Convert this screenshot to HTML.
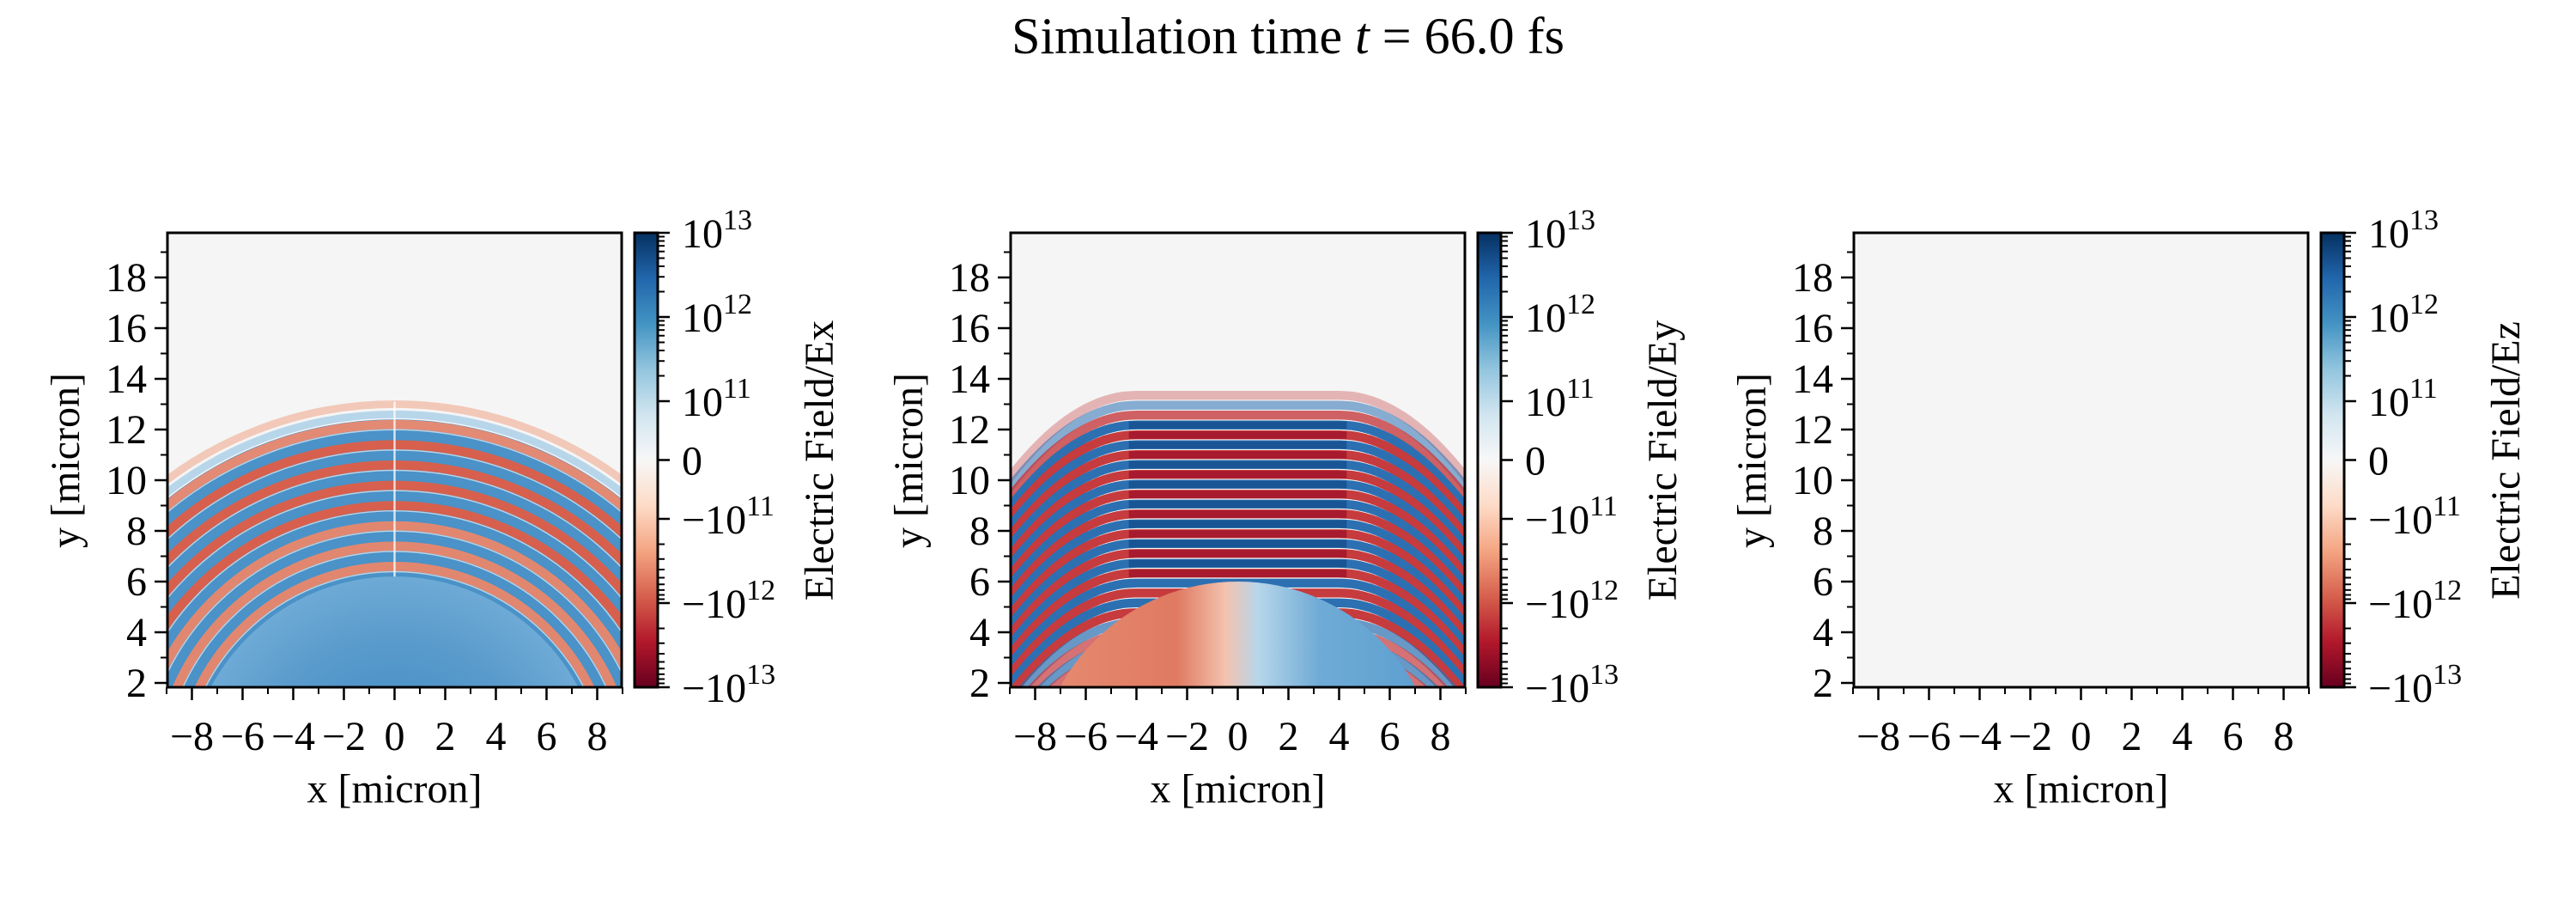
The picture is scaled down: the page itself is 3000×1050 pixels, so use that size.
<!DOCTYPE html>
<html><head><meta charset="utf-8"><style>
html,body{margin:0;padding:0;background:#fff;width:3000px;height:1050px;overflow:hidden;position:relative;}
svg{display:block;position:absolute;left:0;top:0;font-family:"Liberation Serif","DejaVu Serif",serif;}
</style></head><body>
<svg id="s" xmlns="http://www.w3.org/2000/svg" width="3000" height="1050" viewBox="0 0 3000 1050">
<defs>
<linearGradient id="cb" x1="0" y1="0" x2="0" y2="1">
<stop offset="0" stop-color="#053061"/><stop offset="0.1" stop-color="#2166ac"/><stop offset="0.2" stop-color="#4393c3"/><stop offset="0.3" stop-color="#92c5de"/><stop offset="0.4" stop-color="#d1e5f0"/><stop offset="0.5" stop-color="#f7f7f7"/><stop offset="0.6" stop-color="#fddbc7"/><stop offset="0.7" stop-color="#f4a582"/><stop offset="0.8" stop-color="#d6604d"/><stop offset="0.9" stop-color="#b2182b"/><stop offset="1" stop-color="#67001f"/>
</linearGradient>
<radialGradient id="dome1" cx="0.5" cy="0.5" r="0.5">
<stop offset="0" stop-color="#3a86c0"/><stop offset="0.7" stop-color="#5a9bcc"/><stop offset="1" stop-color="#6eaad6"/>
</radialGradient>
<linearGradient id="dome2" x1="0" y1="0" x2="1" y2="0">
<stop offset="0" stop-color="#e58c72"/><stop offset="0.35" stop-color="#e07a62"/><stop offset="0.47" stop-color="#f3c2ae"/><stop offset="0.55" stop-color="#b7d6ea"/><stop offset="0.7" stop-color="#6fabd6"/><stop offset="1" stop-color="#5a9dcf"/>
</linearGradient>
<clipPath id="c0"><rect x="195" y="271" width="529" height="529"/></clipPath>
<clipPath id="c1"><rect x="1177" y="271" width="529" height="529"/></clipPath>
<clipPath id="c2"><rect x="2159" y="271" width="529" height="529"/></clipPath>
</defs>
<text x="1500" y="62" font-size="60" text-anchor="middle">Simulation time <tspan font-style="italic">t</tspan> = 66.0 fs</text>
<g id="content"></g>
</svg>
<script>
(function(){
var out=[];
var Ls=[195,1177,2159];
var names=["Ex","Ey","Ez"];
function f(v){return Math.round(v*100)/100;}
for(var p=0;p<3;p++){
 var L=Ls[p], cx=L+264.5;
 out.push('<rect x="'+L+'" y="271" width="529" height="529" fill="#f5f5f5"/>');
 var g='<g clip-path="url(#c'+p+')"><g transform="translate('+cx+',854) scale(29.5,-29.5)">';
 if(p==0){
  g+='<circle cx="0" cy="-2" r="15.0" fill="none" stroke="#f2c8b8" stroke-width="0.3"/>';
  g+='<circle cx="0" cy="-2" r="14.6" fill="none" stroke="#b8d6ea" stroke-width="0.3"/>';
  g+='<circle cx="0" cy="-2" r="14.4" fill="#4a92c7"/>';
  var k=0;
  for(var r=14.2;r>8.0;r-=0.8){
   var col=k==0?"#e38a74":(r<10.5?"#e2876f":"#d6604d");
   g+='<circle cx="0" cy="-2" r="'+f(r)+'" fill="none" stroke="'+col+'" stroke-width="0.36"/>';
   g+='<circle cx="0" cy="-2" r="'+f(r-0.21)+'" fill="none" stroke="#ffffff" stroke-width="0.05" opacity="0.6"/>';
   k++;
  }
  g+='<circle cx="0" cy="-2" r="8.2" fill="url(#dome1)"/>';
  g+='<line x1="0" y1="6.2" x2="0" y2="13.1" stroke="#ffffff" stroke-width="0.08" opacity="0.8"/>';
 } else if(p==1){
  for(var k2=0;k2<44;k2++){
   var y0=13.35-0.39*k2, d='';
   for(var x=-9.5;x<=9.51;x+=0.25){
    var ax=Math.abs(x), y=y0-(ax>4?0.13*(ax-4)*(ax-4):0);
    d+=(d?'L':'M')+f(x)+','+f(y);
   }
   var red=(k2%2==0);
   var col2=red?"#c63b3e":"#2c70b2";
   var op=k2==0?0.35:(k2==1?0.55:(k2==2?0.8:(k2>22?0.7:1)));
   g+='<path d="'+d+'" fill="none" stroke="'+col2+'" stroke-width="0.35" opacity="'+op+'"/>';
   if(k2>=3&&k2<=18){
    var dc=red?"#9c0d27":"#114a88";
    g+='<path d="M-4.3,'+f(y0-0.01)+'L4.3,'+f(y0-0.01)+'" stroke="'+dc+'" stroke-width="0.3" opacity="0.7"/>';
   }
  }
  g+='<circle cx="0" cy="-2" r="8.0" fill="url(#dome2)"/>';
 }
 g+='</g></g>';
 out.push(g);
 out.push('<rect x="'+L+'" y="271" width="529" height="529" fill="none" stroke="#000" stroke-width="3"/>');
 for(var yv=2;yv<=19;yv++){
  var py=854-29.5*yv, maj=(yv%2==0);
  out.push('<line x1="'+(L-(maj?15:8))+'" y1="'+py+'" x2="'+L+'" y2="'+py+'" stroke="#000" stroke-width="'+(maj?2.5:2)+'"/>');
  if(maj) out.push('<text x="'+(L-24)+'" y="'+(py+16)+'" font-size="48" text-anchor="end">'+yv+'</text>');
 }
 for(var xv=-9;xv<=9;xv++){
  var px=cx+29.5*xv, maj2=(xv%2==0);
  out.push('<line x1="'+px+'" y1="800" x2="'+px+'" y2="'+(800+(maj2?15:8))+'" stroke="#000" stroke-width="'+(maj2?2.5:2)+'"/>');
  if(maj2) out.push('<text x="'+px+'" y="873" font-size="48" text-anchor="middle">'+(xv<0?'\u2212'+(-xv):xv)+'</text>');
 }
 out.push('<text x="'+cx+'" y="934" font-size="48" text-anchor="middle">x [micron]</text>');
 out.push('<text transform="translate('+(L-103)+',536) rotate(-90)" font-size="48" text-anchor="middle">y [micron]</text>');
 var cbx=L+544, cbw=27;
 out.push('<rect x="'+cbx+'" y="271" width="'+cbw+'" height="529" fill="url(#cb)" stroke="#000" stroke-width="3"/>');
 var mid=535.5, lin=68.5, dec=98;
 var majors=[[271,'10','13'],[mid-lin-dec,'10','12'],[mid-lin,'10','11'],[mid,'0',''],[mid+lin,'\u221210','11'],[mid+lin+dec,'\u221210','12'],[800,'\u221210','13']];
 var tx=cbx+cbw;
 majors.forEach(function(m){
  out.push('<line x1="'+tx+'" y1="'+m[0]+'" x2="'+(tx+14)+'" y2="'+m[0]+'" stroke="#000" stroke-width="2.5"/>');
  var t='<text x="'+(tx+28)+'" y="'+(m[0]+17)+'" font-size="48">'+m[1];
  if(m[2]) t+='<tspan dy="-21" font-size="34">'+m[2]+'</tspan>';
  t+='</text>';
  out.push(t);
 });
 for(var s=-1;s<=1;s+=2){
  for(var dd=0;dd<2;dd++){
   for(var mm=2;mm<=9;mm++){
    var off=lin+dec*dd+dec*Math.log10(mm);
    var yy=mid-s*off;
    out.push('<line x1="'+tx+'" y1="'+f(yy)+'" x2="'+(tx+8)+'" y2="'+f(yy)+'" stroke="#000" stroke-width="2"/>');
   }
  }
 }
 out.push('<text transform="translate('+(L+775)+',536) rotate(-90)" font-size="48" text-anchor="middle">Electric Field/'+names[p]+'</text>');
}
document.getElementById("content").innerHTML=out.join("");
})();
</script>
</body></html>
